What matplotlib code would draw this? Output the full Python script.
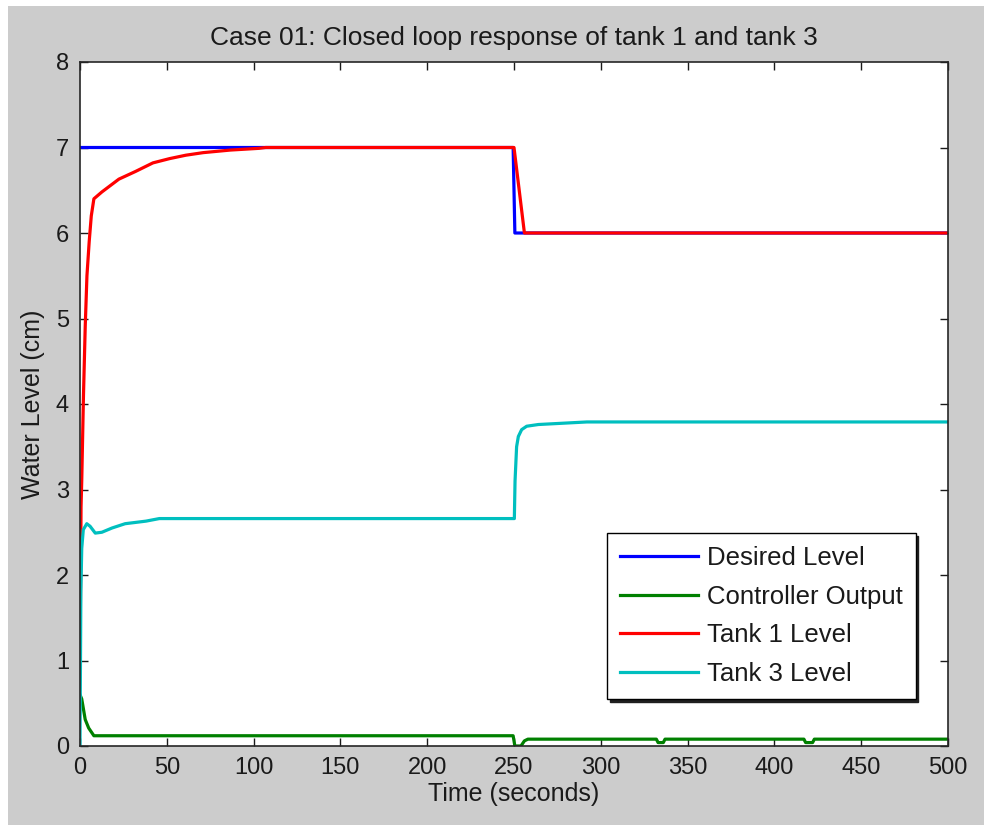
import matplotlib
matplotlib.use("Agg")
import matplotlib.pyplot as plt
from matplotlib.patches import Rectangle

plt.rcParams['font.family'] = ['Liberation Sans', 'DejaVu Sans']

# ---- data ----
t_desired = [0, 249.5, 250.5, 500]
desired = [7, 7, 6, 6]

t_ctrl = [0, 1, 2, 3, 5, 8, 249.5, 250.5, 254, 256, 258, 332, 333, 336, 337,
          417, 418, 422, 423, 500]
ctrl = [0.60, 0.55, 0.43, 0.31, 0.21, 0.12, 0.12, 0.0, 0.0, 0.06, 0.08, 0.08,
        0.04, 0.04, 0.08, 0.08, 0.04, 0.04, 0.08, 0.08]

t_tank1 = [0, 0.3, 0.6, 1.0, 1.5, 2.0, 3.0, 4.0, 5.3, 6.5, 8, 12.6, 22.4, 32,
           42, 51.6, 61, 71, 86.6, 103, 107, 250, 251.5, 253, 254.5, 256, 500]
tank1 = [1.0, 1.8, 2.8, 3.1, 3.6, 4.1, 4.9, 5.5, 5.9, 6.2, 6.4, 6.48, 6.63,
         6.72, 6.82, 6.87, 6.91, 6.94, 6.97, 6.99, 7.0, 7.0, 6.75, 6.5, 6.25,
         6.0, 6.0]

t_tank3 = [0, 0.5, 1.0, 1.9, 3.9, 5.8, 8.8, 12.6, 18.5, 26, 38, 45.7, 250.2,
           250.6, 251.5, 252.5, 254.4, 257.3, 264, 292, 500]
tank3 = [0.0, 1.8, 2.31, 2.53, 2.60, 2.57, 2.49, 2.50, 2.55, 2.60, 2.63, 2.66,
         2.66, 3.1, 3.5, 3.62, 3.70, 3.74, 3.76, 3.79, 3.79]

labels = ['Desired Level', 'Controller Output', 'Tank 1 Level', 'Tank 3 Level']
colors = ['#0000ff', '#008000', '#ff0000', '#00bfbf']
xticks = [0, 50, 100, 150, 200, 250, 300, 350, 400, 450, 500]
yticks = [0, 1, 2, 3, 4, 5, 6, 7, 8]

# ---- figure ----
fig = plt.figure(figsize=(9.84, 8.25), dpi=100, facecolor='white')
fig.patches.append(Rectangle((8 / 984, 0), 1, 819 / 825, transform=fig.transFigure,
                             facecolor='#cccccc', edgecolor='none', zorder=-10))

ax = fig.add_axes([80 / 984, (825 - 746) / 825, 868 / 984, 684 / 825])
ax.set_facecolor('white')

lw = 2.3
ax.plot(t_desired, desired, color=colors[0], lw=lw, label=labels[0])
ax.plot(t_ctrl, ctrl, color=colors[1], lw=lw, label=labels[1])
ax.plot(t_tank1, tank1, color=colors[2], lw=lw, label=labels[2])
ax.plot(t_tank3, tank3, color=colors[3], lw=lw, label=labels[3])

ax.set_xlim(0, 500)
ax.set_ylim(0, 8)
ax.set_xticks(xticks)
ax.set_yticks(yticks)
ax.tick_params(direction='in', length=5.5, width=1.0, top=True, right=True,
               labelsize=17, colors='#1a1a1a', pad=8)
for s in ax.spines.values():
    s.set_linewidth(1.2)
    s.set_color('#262626')

ax.set_title('Case 01: Closed loop response of tank 1 and tank 3',
             fontsize=19, color='#1a1a1a', pad=12)
ax.set_xlabel('Time (seconds)', fontsize=18, color='#1a1a1a', labelpad=2)
ax.set_ylabel('Water Level (cm)', fontsize=18, color='#1a1a1a', labelpad=8)

leg = ax.legend(loc='upper left', bbox_to_anchor=(0.607, 0.311), borderaxespad=0,
                fontsize=18.5, handlelength=3.05, handletextpad=0.35,
                labelspacing=0.57, borderpad=0.5, fancybox=False,
                edgecolor='black', framealpha=1,
                shadow={'color': '#202020', 'alpha': 1})
leg.get_frame().set_linewidth(1.0)
for txt in leg.get_texts():
    txt.set_color('#1a1a1a')

fig.savefig('out.png', dpi=100, facecolor=fig.get_facecolor())
